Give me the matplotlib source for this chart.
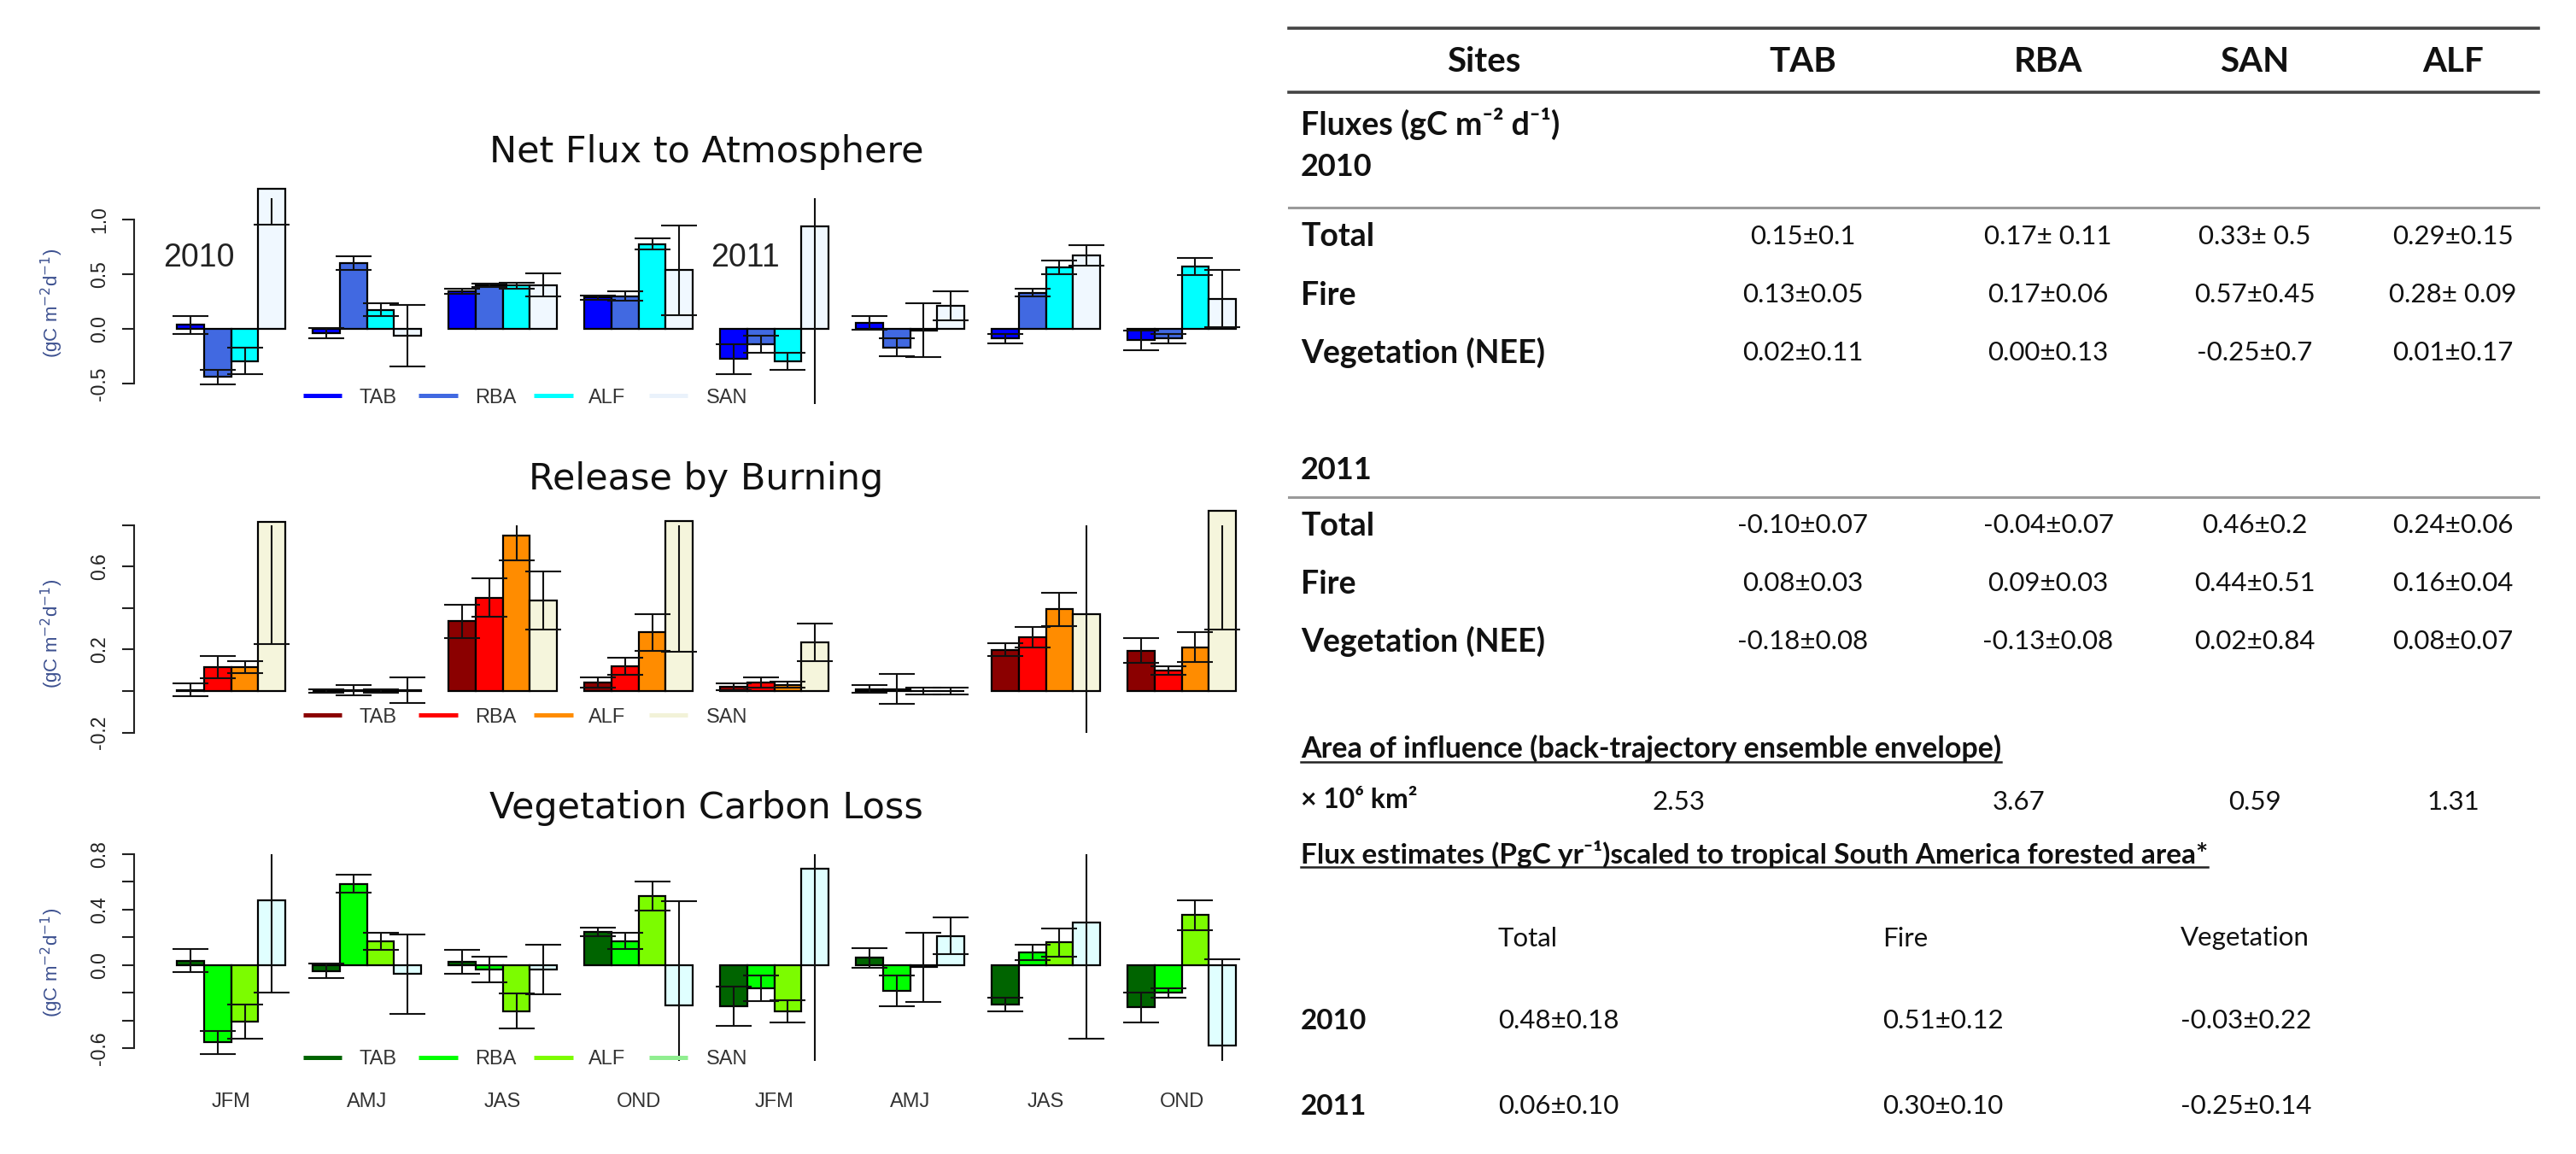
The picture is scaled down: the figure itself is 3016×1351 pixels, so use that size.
import matplotlib
matplotlib.use("Agg")
import matplotlib.pyplot as plt
from matplotlib.lines import Line2D
from matplotlib import transforms
import numpy as np

plt.rcParams['font.family'] = ['Liberation Sans', 'DejaVu Sans']

# ---------------- chart data ----------------
seasons = ["JFM", "AMJ", "JAS", "OND", "JFM", "AMJ", "JAS", "OND"]
years = ["2010", "2011"]
sites = ["TAB", "RBA", "ALF", "SAN"]

# rows = season groups (2010 JFM..OND, 2011 JFM..OND), columns = sites
net_mean = [
    [0.035, -0.44, -0.295, 1.28],
    [-0.04, 0.603, 0.175, -0.064],
    [0.345, 0.40, 0.395, 0.40],
    [0.285, 0.30, 0.775, 0.535],
    [-0.275, -0.138, -0.297, 0.94],
    [0.055, -0.17, -0.013, 0.21],
    [-0.09, 0.33, 0.56, 0.675],
    [-0.104, -0.09, 0.573, 0.276],
]
net_err = [
    [0.08, 0.068, 0.12, 0.325],
    [0.05, 0.061, 0.058, 0.28],
    [0.025, 0.015, 0.03, 0.107],
    [0.02, 0.045, 0.05, 0.41],
    [0.136, 0.078, 0.08, 1.75],
    [0.065, 0.08, 0.247, 0.133],
    [0.04, 0.036, 0.063, 0.094],
    [0.09, 0.045, 0.078, 0.263],
]

fire_mean = [
    [0.005, 0.115, 0.115, 0.816],
    [0.0, 0.005, 0.0, 0.003],
    [0.337, 0.45, 0.748, 0.435],
    [0.04, 0.12, 0.282, 0.82],
    [0.02, 0.04, 0.03, 0.235],
    [0.01, 0.01, 0.0, 0.0],
    [0.198, 0.258, 0.394, 0.37],
    [0.195, 0.10, 0.21, 0.867],
]
fire_err = [
    [0.03, 0.053, 0.03, 0.59],
    [0.01, 0.025, 0.01, 0.062],
    [0.08, 0.092, 0.118, 0.14],
    [0.025, 0.04, 0.087, 0.63],
    [0.015, 0.024, 0.015, 0.09],
    [0.018, 0.073, 0.015, 0.015],
    [0.031, 0.05, 0.08, 1.0],
    [0.059, 0.02, 0.072, 0.572],
]

veg_mean = [
    [0.033, -0.557, -0.406, 0.47],
    [-0.041, 0.587, 0.174, -0.064],
    [0.024, -0.03, -0.331, -0.03],
    [0.24, 0.175, 0.497, -0.287],
    [-0.296, -0.166, -0.33, 0.697],
    [0.053, -0.186, -0.015, 0.21],
    [-0.285, 0.092, 0.164, 0.308],
    [-0.305, -0.2, 0.36, -0.58],
]
veg_err = [
    [0.084, 0.085, 0.123, 0.67],
    [0.051, 0.064, 0.062, 0.285],
    [0.085, 0.093, 0.126, 0.178],
    [0.03, 0.06, 0.103, 0.75],
    [0.142, 0.09, 0.08, 1.5],
    [0.07, 0.11, 0.25, 0.133],
    [0.05, 0.057, 0.1, 0.84],
    [0.105, 0.036, 0.105, 0.625],
]

# ---------------- table data ----------------
table_cols = ["TAB", "RBA", "SAN", "ALF"]
flux_rows = ["Total", "Fire", "Vegetation (NEE)"]
flux_2010 = [
    ["0.15±0.1", "0.17± 0.11", "0.33± 0.5", "0.29±0.15"],
    ["0.13±0.05", "0.17±0.06", "0.57±0.45", "0.28± 0.09"],
    ["0.02±0.11", "0.00±0.13", "-0.25±0.7", "0.01±0.17"],
]
flux_2011 = [
    ["-0.10±0.07", "-0.04±0.07", "0.46±0.2", "0.24±0.06"],
    ["0.08±0.03", "0.09±0.03", "0.44±0.51", "0.16±0.04"],
    ["-0.18±0.08", "-0.13±0.08", "0.02±0.84", "0.08±0.07"],
]
area_values = ["2.53", "3.67", "0.59", "1.31"]
scaled_cols = ["Total", "Fire", "Vegetation"]
scaled_2010 = ["0.48±0.18", "0.51±0.12", "-0.03±0.22"]
scaled_2011 = ["0.06±0.10", "0.30±0.10", "-0.25±0.14"]

# ---------------- figure ----------------
W, H, DPI = 3016, 1351, 100
fig = plt.figure(figsize=(W / DPI, H / DPI), dpi=DPI)
fig.patch.set_facecolor("white")


def fx(x):
    return x / W


def fy(y):
    return 1 - y / H


XL, XR = 157.4, 1496.8          # plot region (pixels)
XLIM = (-0.56, 41.56)           # bar units, 5 units per season group


def panel(top, bottom, ylim, means, errs, colors, ticks, ticklabels,
          title, title_base, leg_y, leg_colors, ylab_y):
    ax = fig.add_axes([fx(XL), fy(bottom), (XR - XL) / W, (bottom - top) / H])
    ax.set_xlim(*XLIM)
    ax.set_ylim(*ylim)
    ax.patch.set_alpha(0)
    m = np.array(means)
    e = np.array(errs)
    for i, c in enumerate(colors):
        xs = np.arange(len(m)) * 5 + 1.5 + i
        ax.bar(xs, m[:, i], width=1.0, color=c, edgecolor="black",
               linewidth=1.6, clip_on=False, zorder=2)
    for i in range(len(colors)):
        xs = np.arange(len(m)) * 5 + 1.5 + i
        ax.errorbar(xs, m[:, i], yerr=e[:, i], fmt="none", ecolor="#111111",
                    elinewidth=1.5, capsize=15, capthick=1.5, zorder=3)
    for s in ("top", "right", "bottom"):
        ax.spines[s].set_visible(False)
    ax.spines["left"].set_bounds(ticks[0], ticks[-1])
    ax.spines["left"].set_linewidth(1.5)
    ax.spines["left"].set_color("#222222")
    ax.set_yticks(ticks)
    ax.set_yticklabels(ticklabels, rotation=90, va="center")
    ax.tick_params(axis="y", direction="out", length=10, width=1.5,
                   labelsize=16.5, pad=11, colors="#222222")
    ax.tick_params(axis="x", length=0, labelbottom=False)
    fig.text(fx(827), fy(title_base), title, ha="center", va="baseline",
             fontsize=31, family="DejaVu Sans", color="#111111")
    fig.text(fx(61), fy(ylab_y), r"(gC m$^{-2}$d$^{-1}$)", rotation=90,
             ha="center", va="center", fontsize=16, color="#3b4f8f")
    # horizontal legend
    line_x = [(355, 400), (490, 536), (625, 671), (760, 805)]
    text_x = [421, 556, 689, 827]
    for (a, b), tx, c, name in zip(line_x, text_x, leg_colors, sites):
        fig.add_artist(Line2D([fx(a), fx(b)], [fy(leg_y), fy(leg_y)],
                              transform=fig.transFigure, color=c, lw=3.6,
                              solid_capstyle="butt"))
        fig.text(fx(tx), fy(leg_y), name, ha="left", va="center_baseline",
                 fontsize=17, color="#333333")
    return ax


ax1 = panel(232, 473.3, (-0.69, 1.195), net_mean, net_err,
            ["#0000FF", "#4169E1", "#00FFFF", "#F0F8FF"],
            [-0.5, 0.0, 0.5, 1.0], ["-0.5", "0.0", "0.5", "1.0"],
            "Net Flux to Atmosphere", 190, 463,
            ["#0000FF", "#4169E1", "#00FFFF", "#EAF2FB"], 355)
ax2 = panel(614.6, 857.6, (-0.2, 0.8), fire_mean, fire_err,
            ["#8B0000", "#FF0000", "#FF8C00", "#F5F5DC"],
            [-0.2, 0.0, 0.2, 0.4, 0.6, 0.8], ["-0.2", "", "0.2", "", "0.6", ""],
            "Release by Burning", 573, 837,
            ["#8B0000", "#FF0000", "#FF8C00", "#F2F2D8"], 742)
ax3 = panel(1000, 1242, (-0.69, 0.8), veg_mean, veg_err,
            ["#006400", "#00FF00", "#7CFC00", "#E0FFFF"],
            [-0.6, -0.4, -0.2, 0.0, 0.2, 0.4, 0.6, 0.8],
            ["-0.6", "", "", "0.0", "", "0.4", "", "0.8"],
            "Vegetation Carbon Loss", 958, 1238,
            ["#006400", "#00FF00", "#7CFC00", "#90EE90"], 1127)

# season labels under the bottom panel
blend = transforms.blended_transform_factory(ax3.transData, fig.transFigure)
for g, s in enumerate(seasons):
    ax3.text(g * 5 + 3, fy(1287), s, transform=blend, ha="center",
             va="center_baseline", fontsize=17, color="#333333", clip_on=False)

# year markers in the top panel
fig.text(fx(233), fy(312), years[0], ha="center", va="baseline", fontsize=27, color="#222222")
fig.text(fx(873), fy(312), years[1], ha="center", va="baseline", fontsize=27, color="#222222")

# ---------------- summary table ----------------
TF = ["Lato", "DejaVu Sans"]
TL, TR = 1509, 2972
col_x = [2111, 2398, 2640, 2872]
lab_x = 1523
VAL = 22.5


def hline(y, color, lw):
    fig.add_artist(Line2D([fx(TL), fx(TR)], [fy(y), fy(y)],
                          transform=fig.transFigure, color=color, lw=lw))


def ttext(x, y, s, size=VAL, bold=False, ha="left"):
    return fig.text(fx(x), fy(y), s, ha=ha, va="center_baseline",
                    fontsize=size, family=TF,
                    fontweight="bold" if bold else "normal", color="#111111")


hline(33, "#444444", 2.6)
hline(108, "#444444", 2.6)
hline(243, "#9a9a9a", 2.2)
hline(582, "#9a9a9a", 2.2)

ttext(1737, 69, "Sites", 29, True, "center")
for x, s in zip(col_x, table_cols):
    ttext(x, 69, s, 29, True, "center")

ttext(lab_x, 142, "Fluxes (gC m⁻² d⁻¹)", 27, True)
ttext(lab_x, 193, years[0], 26, True)
for ry, lab, vals in zip([274, 343, 410], flux_rows, flux_2010):
    ttext(lab_x, ry, lab, 27, True)
    for x, v in zip(col_x, vals):
        ttext(x, ry, v, VAL, False, "center")

ttext(lab_x, 547, years[1], 26, True)
for ry, lab, vals in zip([613, 681, 748], flux_rows, flux_2011):
    ttext(lab_x, ry, lab, 27, True)
    for x, v in zip(col_x, vals):
        ttext(x, ry, v, VAL, False, "center")

underlined = []
underlined.append(ttext(lab_x, 873, "Area of influence (back-trajectory ensemble envelope)", 24.5, True))
ttext(lab_x, 934, "× 10⁶ km²", 23, True)
for x, v in zip([1965, 2364, 2640, 2872], area_values):
    ttext(x, 936, v, VAL, False, "center")

underlined.append(ttext(lab_x, 997, "Flux estimates (PgC yr⁻¹)scaled to tropical South America forested area*", 24, True))

sc_x = [1754, 2204, 2553]
for x, s in zip(sc_x, scaled_cols):
    ttext(x, 1096, s, VAL)
ttext(lab_x, 1193, years[0], 24, True)
ttext(lab_x, 1293, years[1], 24, True)
for x, a, b in zip(sc_x, scaled_2010, scaled_2011):
    ttext(x, 1193, a, VAL)
    ttext(x, 1293, b, VAL)

fig.canvas.draw()
rend = fig.canvas.get_renderer()
for t in underlined:
    bb = t.get_window_extent(rend)
    yy = bb.y0 + 1
    fig.add_artist(Line2D([bb.x0 / W, bb.x1 / W], [yy / H, yy / H],
                          transform=fig.transFigure, color="#222222", lw=1.8))

fig.savefig("out.png", dpi=DPI, facecolor="white")
